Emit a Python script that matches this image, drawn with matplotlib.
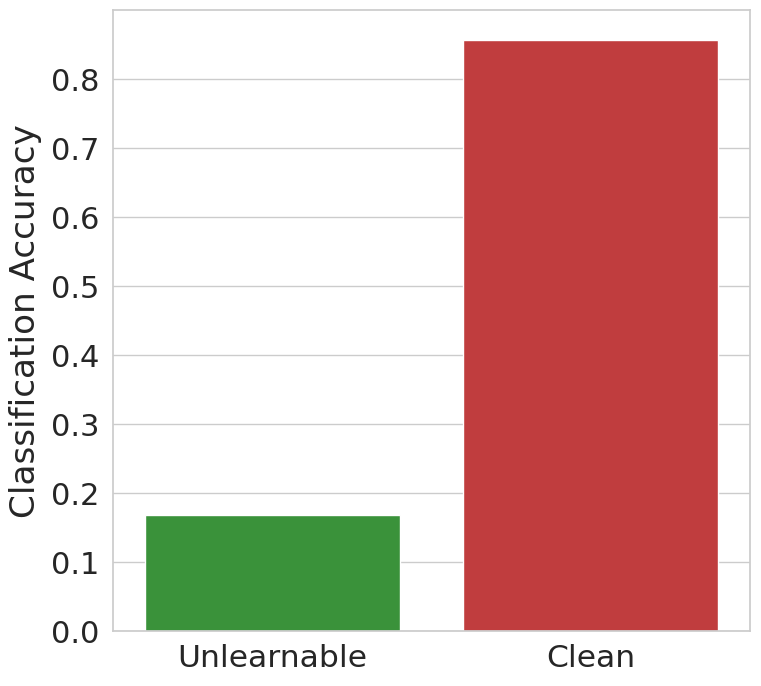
import matplotlib
matplotlib.use("Agg")
import matplotlib.pyplot as plt
import seaborn as sns

categories = ["Unlearnable", "Clean"]
accuracy = [0.169, 0.857]
bar_colors = ["#2ca02c", "#d62728"]

sns.set_theme(style="whitegrid", font_scale=2)
fig, ax = plt.subplots(figsize=(7.61, 6.86), dpi=100)
sns.barplot(x=categories, y=accuracy, hue=categories, palette=bar_colors,
            saturation=0.75, legend=False, ax=ax)
ax.set_ylabel("Classification Accuracy", fontsize=24.7, labelpad=6.5)
ax.set_xlabel("")
ax.set_ylim(0, 0.9)
ax.set_yticks([0.0, 0.1, 0.2, 0.3, 0.4, 0.5, 0.6, 0.7, 0.8])
ax.tick_params(axis="x", labelsize=22.6)
fig.subplots_adjust(left=0.148, right=0.986, top=0.985, bottom=0.08)
fig.savefig("out.png", dpi=100)
